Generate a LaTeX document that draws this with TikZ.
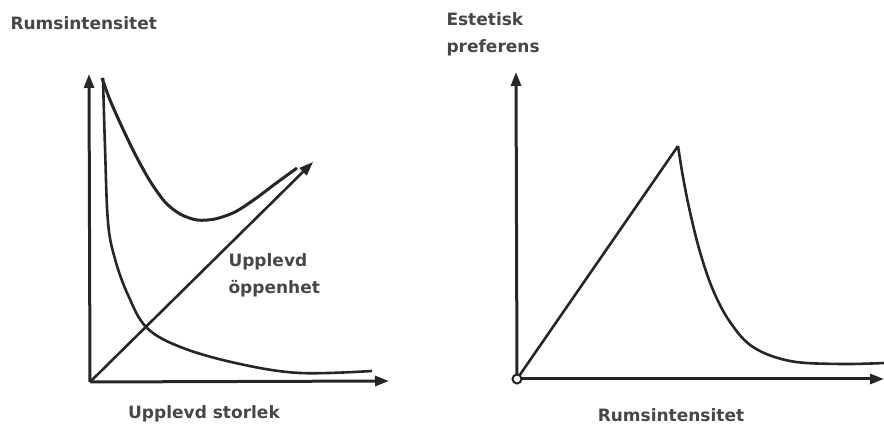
\documentclass[tikz,border=0pt]{standalone}
\usepackage{fontspec}
\setmainfont{DejaVu Sans}
\usepackage{xcolor}
\usepackage{tikz}
\usetikzlibrary{positioning, arrows.meta}

\definecolor{ink}{HTML}{262626}

\begin{document}
\begin{tikzpicture}[x=1pt,y=1pt,line width=3pt,draw=ink,
    axis/.style={-{Triangle[length=14pt,width=10pt]},line width=3pt},
    curve/.style={line width=3pt,line join=round},
    lbl/.style={inner sep=0pt,text=ink!85,font=\fontsize{17}{27}\selectfont\bfseries,align=left}]
       \useasboundingbox (0,0) rectangle (884,427);

       % left diagram
       \coordinate (O1) at (90,45);
       \coordinate (Y1) at (89,353);
       \coordinate (X1) at (389,46);
       \coordinate (D1) at (313,265);
       \draw[axis] (O1) -- (Y1);
       \draw[axis] (O1) -- (X1);
       \draw[axis,line width=2.6pt] (O1) -- (D1);
       \draw[curve] plot[smooth,tension=0.5] coordinates
           {(102,349) (110,327) (122,300) (135,273) (150,246) (165,225) (180,213) (197,207)
            (215,208) (235,215) (255,228) (275,243) (297,259)};
       \draw[curve,line width=2.6pt] plot[smooth,tension=0.6] coordinates
           {(103,349) (105,280) (108,205) (115,168) (128,132) (147,99) (183,79) (240,63) (300,54) (372,56)};

       \node[lbl,anchor=west] (yl1) at (9,404) {Rumsintensitet};
       \node[lbl] (xl1) at (204,13) {Upplevd storlek};
       \node[lbl,anchor=north west] (dl1) at (227,175) {Upplevd\\öppenhet};

       % right diagram
       \coordinate (O2) at (517,48);
       \coordinate (Y2) at (516,355);
       \coordinate (X2) at (884,48);
       \coordinate (P2) at (678,281);
       \draw[axis] (O2) -- (Y2);
       \draw[axis] (O2) -- (X2);
       \draw[curve,line width=2.6pt] (O2) -- (P2);
       \draw[curve,line width=2.6pt] plot[smooth,tension=0.6] coordinates
           {(678,281) (683,250) (690,215) (700,175) (713,137) (730,105) (753,80) (790,66) (840,63) (884,64)};
       \node[draw=ink,fill=white,circle,line width=2pt,minimum size=9pt,inner sep=0pt] (o2) at (O2) {};

       \node[lbl,anchor=north west] (yl2) at (445,416) {Estetisk\\preferens};
       \node[lbl] (xl2) at (671,12) {Rumsintensitet};
    \end{tikzpicture}
\end{document}
